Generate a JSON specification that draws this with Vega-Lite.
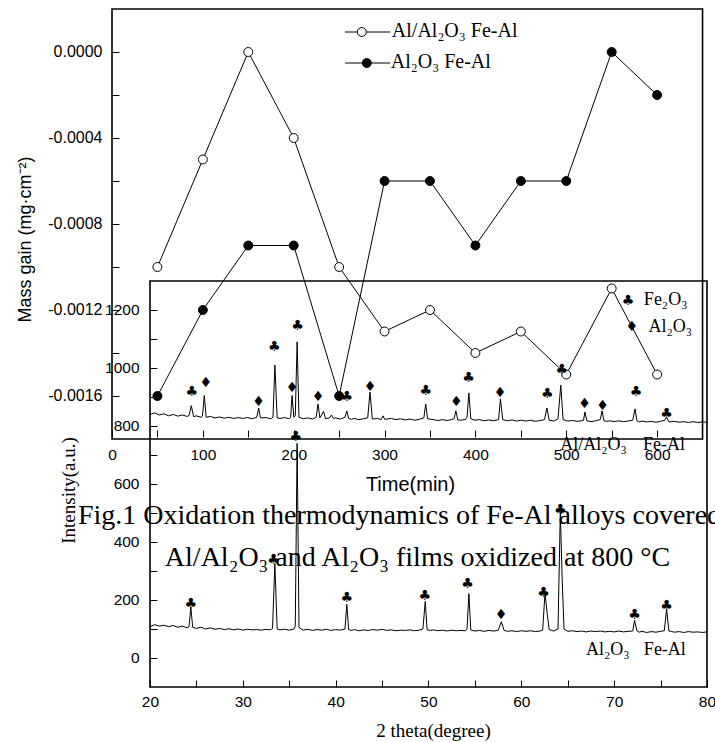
{
"$schema": "https://vega.github.io/schema/vega-lite/v6.json",
"width": 596, "height": 678,
"autosize": {"type": "none"},
"padding": {"left": 112, "top": 9, "right": 7, "bottom": 55},
"background": "white",
"config": {"view": {"stroke": null}, "axis": {"grid": false, "domain": false, "labelFont": "Liberation Sans", "labelFontSize": 15.5, "labelColor": "black", "tickColor": "black", "tickSize": -7, "tickWidth": 1, "labelOverlap": false, "labelFlush": false, "titleFontWeight": "normal", "titleColor": "black"}},
"datasets": {
"mass": [
{"s":"open","x":50,"y":-0.0010},{"s":"open","x":100,"y":-0.0005},{"s":"open","x":150,"y":0.0},{"s":"open","x":200,"y":-0.0004},{"s":"open","x":250,"y":-0.0010},{"s":"open","x":300,"y":-0.0013},{"s":"open","x":350,"y":-0.0012},{"s":"open","x":400,"y":-0.0014},{"s":"open","x":450,"y":-0.0013},{"s":"open","x":500,"y":-0.0015},{"s":"open","x":550,"y":-0.0011},{"s":"open","x":600,"y":-0.0015},
{"s":"solid","x":50,"y":-0.0016},{"s":"solid","x":100,"y":-0.0012},{"s":"solid","x":150,"y":-0.0009},{"s":"solid","x":200,"y":-0.0009},{"s":"solid","x":250,"y":-0.0016},{"s":"solid","x":300,"y":-0.0006},{"s":"solid","x":350,"y":-0.0006},{"s":"solid","x":400,"y":-0.0009},{"s":"solid","x":450,"y":-0.0006},{"s":"solid","x":500,"y":-0.0006},{"s":"solid","x":550,"y":0.0},{"s":"solid","x":600,"y":-0.0002}
],
"xrd": [
{"s":"a","x":20,"y":840},{"s":"a","x":20.5,"y":845},{"s":"a","x":21,"y":838},{"s":"a","x":21.5,"y":842},{"s":"a","x":22,"y":835},{"s":"a","x":22.5,"y":840},{"s":"a","x":23,"y":834},{"s":"a","x":23.5,"y":838},{"s":"a","x":24,"y":833},{"s":"a","x":24.2,"y":836},{"s":"a","x":24.45,"y":870},{"s":"a","x":24.7,"y":832},{"s":"a","x":25,"y":835},{"s":"a","x":25.5,"y":830},{"s":"a","x":25.65,"y":834},{"s":"a","x":25.85,"y":905},{"s":"a","x":26.05,"y":830},{"s":"a","x":26.5,"y":833},{"s":"a","x":27,"y":828},{"s":"a","x":27.5,"y":831},{"s":"a","x":28,"y":827},{"s":"a","x":28.5,"y":830},{"s":"a","x":29,"y":826},{"s":"a","x":29.5,"y":829},{"s":"a","x":30,"y":826},{"s":"a","x":30.5,"y":829},{"s":"a","x":31,"y":825},{"s":"a","x":31.5,"y":830},{"s":"a","x":31.7,"y":862},{"s":"a","x":31.9,"y":828},{"s":"a","x":32.5,"y":829},{"s":"a","x":33,"y":825},{"s":"a","x":33.25,"y":830},{"s":"a","x":33.45,"y":1010},{"s":"a","x":33.7,"y":828},{"s":"a","x":34,"y":826},{"s":"a","x":34.5,"y":829},{"s":"a","x":35,"y":825},{"s":"a","x":35.15,"y":830},{"s":"a","x":35.3,"y":905},{"s":"a","x":35.5,"y":830},{"s":"a","x":35.65,"y":835},{"s":"a","x":35.85,"y":1090},{"s":"a","x":36.05,"y":830},{"s":"a","x":36.5,"y":825},{"s":"a","x":37,"y":828},{"s":"a","x":37.5,"y":824},{"s":"a","x":37.9,"y":830},{"s":"a","x":38.1,"y":876},{"s":"a","x":38.3,"y":828},{"s":"a","x":38.7,"y":850},{"s":"a","x":38.9,"y":826},{"s":"a","x":39.3,"y":827},{"s":"a","x":39.55,"y":838},{"s":"a","x":39.75,"y":826},{"s":"a","x":40,"y":828},{"s":"a","x":40.5,"y":824},{"s":"a","x":41,"y":830},{"s":"a","x":41.2,"y":852},{"s":"a","x":41.4,"y":826},{"s":"a","x":41.7,"y":823},{"s":"a","x":42,"y":826},{"s":"a","x":42.5,"y":822},{"s":"a","x":43,"y":825},{"s":"a","x":43.45,"y":828},{"s":"a","x":43.7,"y":917},{"s":"a","x":43.95,"y":824},{"s":"a","x":44.5,"y":826},{"s":"a","x":44.9,"y":822},{"s":"a","x":45.1,"y":835},{"s":"a","x":45.3,"y":822},{"s":"a","x":45.5,"y":824},{"s":"a","x":46,"y":826},{"s":"a","x":46.5,"y":822},{"s":"a","x":47,"y":825},{"s":"a","x":47.5,"y":821},{"s":"a","x":48,"y":824},{"s":"a","x":48.5,"y":820},{"s":"a","x":49,"y":823},{"s":"a","x":49.5,"y":828},{"s":"a","x":49.7,"y":876},{"s":"a","x":49.9,"y":825},{"s":"a","x":50.5,"y":822},{"s":"a","x":51,"y":819},{"s":"a","x":51.5,"y":822},{"s":"a","x":52,"y":819},{"s":"a","x":52.5,"y":822},{"s":"a","x":52.75,"y":825},{"s":"a","x":52.95,"y":852},{"s":"a","x":53.15,"y":821},{"s":"a","x":53.5,"y":820},{"s":"a","x":54,"y":823},{"s":"a","x":54.15,"y":830},{"s":"a","x":54.35,"y":914},{"s":"a","x":54.55,"y":825},{"s":"a","x":55,"y":820},{"s":"a","x":55.5,"y":822},{"s":"a","x":56,"y":818},{"s":"a","x":56.5,"y":821},{"s":"a","x":57,"y":818},{"s":"a","x":57.55,"y":822},{"s":"a","x":57.75,"y":893},{"s":"a","x":58.0,"y":822},{"s":"a","x":58.5,"y":818},{"s":"a","x":59,"y":821},{"s":"a","x":59.5,"y":817},{"s":"a","x":60,"y":820},{"s":"a","x":60.5,"y":817},{"s":"a","x":61,"y":820},{"s":"a","x":61.5,"y":816},{"s":"a","x":62,"y":819},{"s":"a","x":62.5,"y":822},{"s":"a","x":62.75,"y":862},{"s":"a","x":63,"y":820},{"s":"a","x":63.5,"y":817},{"s":"a","x":63.95,"y":825},{"s":"a","x":64.25,"y":941},{"s":"a","x":64.5,"y":822},{"s":"a","x":65,"y":817},{"s":"a","x":65.5,"y":819},{"s":"a","x":66,"y":816},{"s":"a","x":66.5,"y":818},{"s":"a","x":66.7,"y":820},{"s":"a","x":66.85,"y":848},{"s":"a","x":67.05,"y":818},{"s":"a","x":67.5,"y":815},{"s":"a","x":68,"y":818},{"s":"a","x":68.5,"y":822},{"s":"a","x":68.7,"y":852},{"s":"a","x":68.9,"y":818},{"s":"a","x":69.2,"y":816},{"s":"a","x":69.5,"y":818},{"s":"a","x":70,"y":815},{"s":"a","x":70.5,"y":818},{"s":"a","x":71,"y":815},{"s":"a","x":71.5,"y":817},{"s":"a","x":72,"y":820},{"s":"a","x":72.25,"y":859},{"s":"a","x":72.45,"y":818},{"s":"a","x":72.7,"y":814},{"s":"a","x":73,"y":817},{"s":"a","x":73.5,"y":814},{"s":"a","x":74,"y":816},{"s":"a","x":74.5,"y":813},{"s":"a","x":75,"y":816},{"s":"a","x":75.45,"y":820},{"s":"a","x":75.65,"y":830},{"s":"a","x":75.9,"y":814},{"s":"a","x":76.5,"y":816},{"s":"a","x":77,"y":813},{"s":"a","x":77.5,"y":815},{"s":"a","x":78,"y":812},{"s":"a","x":78.5,"y":815},{"s":"a","x":79,"y":812},{"s":"a","x":79.5,"y":814},{"s":"a","x":80,"y":813},
{"s":"b","x":20,"y":108},{"s":"b","x":20.5,"y":115},{"s":"b","x":21,"y":110},{"s":"b","x":21.5,"y":113},{"s":"b","x":22,"y":108},{"s":"b","x":22.5,"y":112},{"s":"b","x":23,"y":106},{"s":"b","x":23.5,"y":110},{"s":"b","x":24,"y":104},{"s":"b","x":24.2,"y":108},{"s":"b","x":24.4,"y":175},{"s":"b","x":24.6,"y":106},{"s":"b","x":25,"y":102},{"s":"b","x":25.5,"y":106},{"s":"b","x":26,"y":100},{"s":"b","x":26.5,"y":104},{"s":"b","x":27,"y":99},{"s":"b","x":27.5,"y":102},{"s":"b","x":28,"y":98},{"s":"b","x":28.5,"y":101},{"s":"b","x":29,"y":97},{"s":"b","x":29.5,"y":100},{"s":"b","x":30,"y":96},{"s":"b","x":30.5,"y":99},{"s":"b","x":31,"y":97},{"s":"b","x":31.5,"y":98},{"s":"b","x":32,"y":96},{"s":"b","x":32.5,"y":99},{"s":"b","x":33,"y":97},{"s":"b","x":33.2,"y":102},{"s":"b","x":33.45,"y":325},{"s":"b","x":33.7,"y":100},{"s":"b","x":34,"y":97},{"s":"b","x":34.5,"y":99},{"s":"b","x":35,"y":96},{"s":"b","x":35.5,"y":100},{"s":"b","x":35.65,"y":110},{"s":"b","x":35.85,"y":740},{"s":"b","x":36.05,"y":105},{"s":"b","x":36.5,"y":96},{"s":"b","x":37,"y":99},{"s":"b","x":37.5,"y":95},{"s":"b","x":38,"y":98},{"s":"b","x":38.5,"y":96},{"s":"b","x":39,"y":99},{"s":"b","x":39.5,"y":95},{"s":"b","x":40,"y":98},{"s":"b","x":40.5,"y":96},{"s":"b","x":41,"y":100},{"s":"b","x":41.2,"y":185},{"s":"b","x":41.4,"y":98},{"s":"b","x":41.7,"y":95},{"s":"b","x":42,"y":98},{"s":"b","x":42.5,"y":94},{"s":"b","x":43,"y":97},{"s":"b","x":43.5,"y":95},{"s":"b","x":44,"y":98},{"s":"b","x":44.5,"y":96},{"s":"b","x":45,"y":99},{"s":"b","x":45.5,"y":95},{"s":"b","x":46,"y":97},{"s":"b","x":46.5,"y":94},{"s":"b","x":47,"y":96},{"s":"b","x":47.5,"y":95},{"s":"b","x":48,"y":97},{"s":"b","x":48.5,"y":94},{"s":"b","x":49,"y":96},{"s":"b","x":49.4,"y":100},{"s":"b","x":49.65,"y":195},{"s":"b","x":49.85,"y":97},{"s":"b","x":50.2,"y":95},{"s":"b","x":50.5,"y":97},{"s":"b","x":51,"y":94},{"s":"b","x":51.5,"y":96},{"s":"b","x":52,"y":93},{"s":"b","x":52.5,"y":96},{"s":"b","x":53,"y":94},{"s":"b","x":53.5,"y":95},{"s":"b","x":54,"y":94},{"s":"b","x":54.15,"y":100},{"s":"b","x":54.35,"y":222},{"s":"b","x":54.55,"y":97},{"s":"b","x":55,"y":93},{"s":"b","x":55.5,"y":95},{"s":"b","x":56,"y":92},{"s":"b","x":56.5,"y":95},{"s":"b","x":57,"y":93},{"s":"b","x":57.5,"y":95},{"s":"b","x":57.85,"y":125},{"s":"b","x":58.15,"y":95},{"s":"b","x":58.5,"y":92},{"s":"b","x":59,"y":94},{"s":"b","x":59.5,"y":91},{"s":"b","x":60,"y":94},{"s":"b","x":60.5,"y":92},{"s":"b","x":61,"y":94},{"s":"b","x":61.5,"y":91},{"s":"b","x":62,"y":93},{"s":"b","x":62.3,"y":96},{"s":"b","x":62.55,"y":225},{"s":"b","x":62.8,"y":150},{"s":"b","x":63.0,"y":98},{"s":"b","x":63.5,"y":93},{"s":"b","x":63.95,"y":100},{"s":"b","x":64.2,"y":505},{"s":"b","x":64.4,"y":270},{"s":"b","x":64.6,"y":100},{"s":"b","x":65,"y":92},{"s":"b","x":65.5,"y":94},{"s":"b","x":66,"y":91},{"s":"b","x":66.5,"y":93},{"s":"b","x":67,"y":90},{"s":"b","x":67.5,"y":93},{"s":"b","x":68,"y":91},{"s":"b","x":68.5,"y":93},{"s":"b","x":69,"y":90},{"s":"b","x":69.5,"y":92},{"s":"b","x":70,"y":90},{"s":"b","x":70.5,"y":93},{"s":"b","x":71,"y":90},{"s":"b","x":71.5,"y":92},{"s":"b","x":72,"y":93},{"s":"b","x":72.2,"y":130},{"s":"b","x":72.45,"y":94},{"s":"b","x":72.7,"y":89},{"s":"b","x":73,"y":92},{"s":"b","x":73.5,"y":88},{"s":"b","x":74,"y":91},{"s":"b","x":74.5,"y":89},{"s":"b","x":75,"y":92},{"s":"b","x":75.4,"y":94},{"s":"b","x":75.65,"y":168},{"s":"b","x":75.9,"y":93},{"s":"b","x":76.2,"y":91},{"s":"b","x":76.5,"y":89},{"s":"b","x":77,"y":91},{"s":"b","x":77.5,"y":88},{"s":"b","x":78,"y":91},{"s":"b","x":78.5,"y":89},{"s":"b","x":79,"y":90},{"s":"b","x":79.5,"y":88},{"s":"b","x":80,"y":90}
],
"peaks": [
{"m":"♣","x":24.5,"y":916},{"m":"♦","x":26.0,"y":949},{"m":"♦","x":31.7,"y":882},{"m":"♣","x":33.4,"y":1071},{"m":"♦","x":35.3,"y":931},{"m":"♣","x":35.9,"y":1145},{"m":"♦","x":38.1,"y":899},{"m":"♣","x":41.2,"y":901},{"m":"♦","x":43.7,"y":935},{"m":"♣","x":49.7,"y":922},{"m":"♦","x":53.0,"y":882},{"m":"♣","x":54.3,"y":964},{"m":"♦","x":57.7,"y":913},{"m":"♣","x":62.8,"y":910},{"m":"♣","x":64.35,"y":993},{"m":"♦","x":66.8,"y":875},{"m":"♦","x":68.75,"y":869},{"m":"♣","x":72.35,"y":918},{"m":"♣","x":75.65,"y":841},
{"m":"♣","x":24.4,"y":185},{"m":"♣","x":33.3,"y":338},{"m":"♣","x":35.7,"y":762},{"m":"♣","x":41.2,"y":206},{"m":"♣","x":49.6,"y":214},{"m":"♣","x":54.2,"y":254},{"m":"♦","x":57.8,"y":148},{"m":"♣","x":62.4,"y":225},{"m":"♣","x":64.2,"y":510},{"m":"♣","x":72.2,"y":148},{"m":"♣","x":75.65,"y":180},
{"m":"♣","x":71.5,"y":1232},{"m":"♦","x":71.9,"y":1140}
],
"xlabels": [
{"t":"Fe₂O₃","x":73.2,"y":1217},{"t":"Al₂O₃","x":73.7,"y":1125},
{"t":"Al/Al₂O₃","x":64.2,"y":717},{"t":"Fe-Al","x":73.1,"y":717},
{"t":"Al₂O₃","x":66.97,"y":10},{"t":"Fe-Al","x":73.2,"y":10}
],
"caption": [
{"t":"Fig.1 Oxidation thermodynamics of Fe-Al alloys covered","x":12.24,"y":462},
{"t":"Al/Al₂O₃ and Al₂O₃ films oxidized at 800 °C","x":21.6,"y":317}
]
},
"layer": [
{
"encoding": {
"x": {"field": "x", "type": "quantitative", "scale": {"domain": [0, 656], "nice": false, "zero": false},
 "axis": {"orient": "bottom", "offset": -250, "values": [0,50,100,150,200,250,300,350,400,450,500,550,600], "labelExpr": "datum.value % 100 === 0 ? format(datum.value, 'd') : ''", "labelFont": "Liberation Sans", "labelFontSize": 15.5, "labelColor": "black", "tickSize": -7, "tickColor": "black", "domain": false, "grid": false, "labelFlush": false, "labelOverlap": false, "title": "Time(min)", "titleFont": "Liberation Sans", "titleFontSize": 20, "titleFontWeight": "normal", "titleColor": "black", "labelPadding": 17, "titlePadding": 12}},
"y": {"field": "y", "type": "quantitative", "scale": {"domain": [-0.0029535, 0.0002], "nice": false, "zero": false},
 "axis": {"orient": "left", "values": [-0.0016,-0.0014,-0.0012,-0.0010,-0.0008,-0.0006,-0.0004,-0.0002,0], "labelExpr": "abs(round(datum.value*10000)) % 4 === 0 ? replace(format(datum.value, '.4f'), '\u2212', '-') : ''", "labelFont": "Liberation Sans", "labelFontSize": 16, "labelColor": "black", "tickSize": -7, "tickColor": "black", "domain": false, "grid": false, "labelOverlap": false, "title": "Mass gain (mg·cm⁻²)", "titleFont": "Liberation Sans", "titleFontSize": 18, "titleFontWeight": "normal", "titleColor": "black", "titleY": 230, "labelPadding": 17, "titlePadding": 13}}
},
"layer": [
{"data": {"values": [{"x": 0, "x2": 650, "y": -0.0018, "y2": 0.0002}]},
 "mark": {"type": "rect", "filled": false, "color": "black", "strokeWidth": 1.6},
 "encoding": {"x2": {"field": "x2"}, "y2": {"field": "y2"}}},
{"data": {"name": "mass"}, "mark": {"type": "line", "color": "black", "strokeWidth": 1},
 "encoding": {"detail": {"field": "s"}}},
{"data": {"name": "mass"}, "mark": {"type": "point", "shape": "circle", "filled": true, "size": 80, "stroke": "black", "strokeWidth": 1, "opacity": 1},
 "encoding": {"fill": {"field": "s", "type": "nominal", "scale": {"domain": ["open", "solid"], "range": ["white", "black"]}, "legend": null}}},
{"data": {"values": [{"x": 256.5, "x2": 306, "y": 0.000093}, {"x": 256.5, "x2": 306, "y": -0.0000512}]},
 "mark": {"type": "rule", "color": "black", "strokeWidth": 1},
 "encoding": {"x2": {"field": "x2"}}},
{"data": {"values": [{"x": 274.9, "y": 0.000093, "s": "open"}, {"x": 280.4, "y": -0.0000512, "s": "solid"}]},
 "mark": {"type": "point", "shape": "circle", "filled": true, "size": 80, "stroke": "black", "strokeWidth": 1, "opacity": 1},
 "encoding": {"fill": {"field": "s", "type": "nominal", "scale": {"domain": ["open", "solid"], "range": ["white", "black"]}, "legend": null}}},
{"data": {"values": [{"x": 308, "y": 0.0000698, "t": "Al/Al₂O₃ Fe-Al"}, {"x": 306.8, "y": -0.0000744, "t": "Al₂O₃ Fe-Al"}]},
 "mark": {"type": "text", "align": "left", "baseline": "alphabetic", "font": "Liberation Serif", "fontSize": 20, "color": "black"},
 "encoding": {"text": {"field": "t"}}}
]
},
{
"encoding": {
"x": {"field": "x", "type": "quantitative", "scale": {"domain": [15.907, 80.108], "nice": false, "zero": false},
 "axis": {"orient": "bottom", "values": [20,25,30,35,40,45,50,55,60,65,70,75,80], "labelExpr": "datum.value % 10 === 0 ? format(datum.value, 'd') : ''", "labelFont": "Liberation Sans", "labelFontSize": 15.5, "labelColor": "black", "tickSize": -7, "tickColor": "black", "domain": false, "grid": false, "labelFlush": false, "labelOverlap": false, "title": "2 theta(degree)", "titleFont": "Liberation Serif", "titleFontSize": 19, "titleFontWeight": "normal", "titleColor": "black", "titleX": 321, "labelPadding": 14, "titlePadding": 12}},
"y": {"field": "y", "type": "quantitative", "scale": {"domain": [-100, 2237.9], "nice": false, "zero": false},
 "axis": {"orient": "left", "offset": -38, "values": [0,100,200,300,400,500,600,700,800,900,1000,1100,1200], "labelExpr": "datum.value % 200 === 0 ? format(datum.value, 'd') : ''", "labelFont": "Liberation Sans", "labelFontSize": 15.5, "labelColor": "black", "tickSize": -7, "tickColor": "black", "domain": false, "grid": false, "labelOverlap": false, "title": "Intensity(a.u.)", "titleFont": "Liberation Serif", "titleFontSize": 19, "titleFontWeight": "normal", "titleColor": "black", "titleY": 481, "labelPadding": 18, "titlePadding": 26}}
},
"layer": [
{"data": {"values": [{"x": 20, "x2": 80, "y": -100, "y2": 1300}]},
 "mark": {"type": "rect", "filled": false, "color": "black", "strokeWidth": 1.6},
 "encoding": {"x2": {"field": "x2"}, "y2": {"field": "y2"}}},
{"data": {"name": "xrd"}, "mark": {"type": "line", "color": "black", "strokeWidth": 1},
 "encoding": {"detail": {"field": "s"}}},
{"data": {"name": "peaks"}, "mark": {"type": "text", "font": "DejaVu Sans", "fontSize": 14, "baseline": "middle", "align": "center", "color": "black"},
 "encoding": {"text": {"field": "m"}}},
{"data": {"name": "xlabels"}, "mark": {"type": "text", "font": "Liberation Serif", "fontSize": 18, "baseline": "alphabetic", "align": "left", "color": "black"},
 "encoding": {"text": {"field": "t"}}},
{"data": {"name": "caption"}, "mark": {"type": "text", "font": "Liberation Serif", "fontSize": 28, "baseline": "alphabetic", "align": "left", "color": "black"},
 "encoding": {"text": {"field": "t"}}}
]
}
],
"resolve": {"scale": {"x": "independent", "y": "independent"}, "axis": {"x": "independent", "y": "independent"}}
}
